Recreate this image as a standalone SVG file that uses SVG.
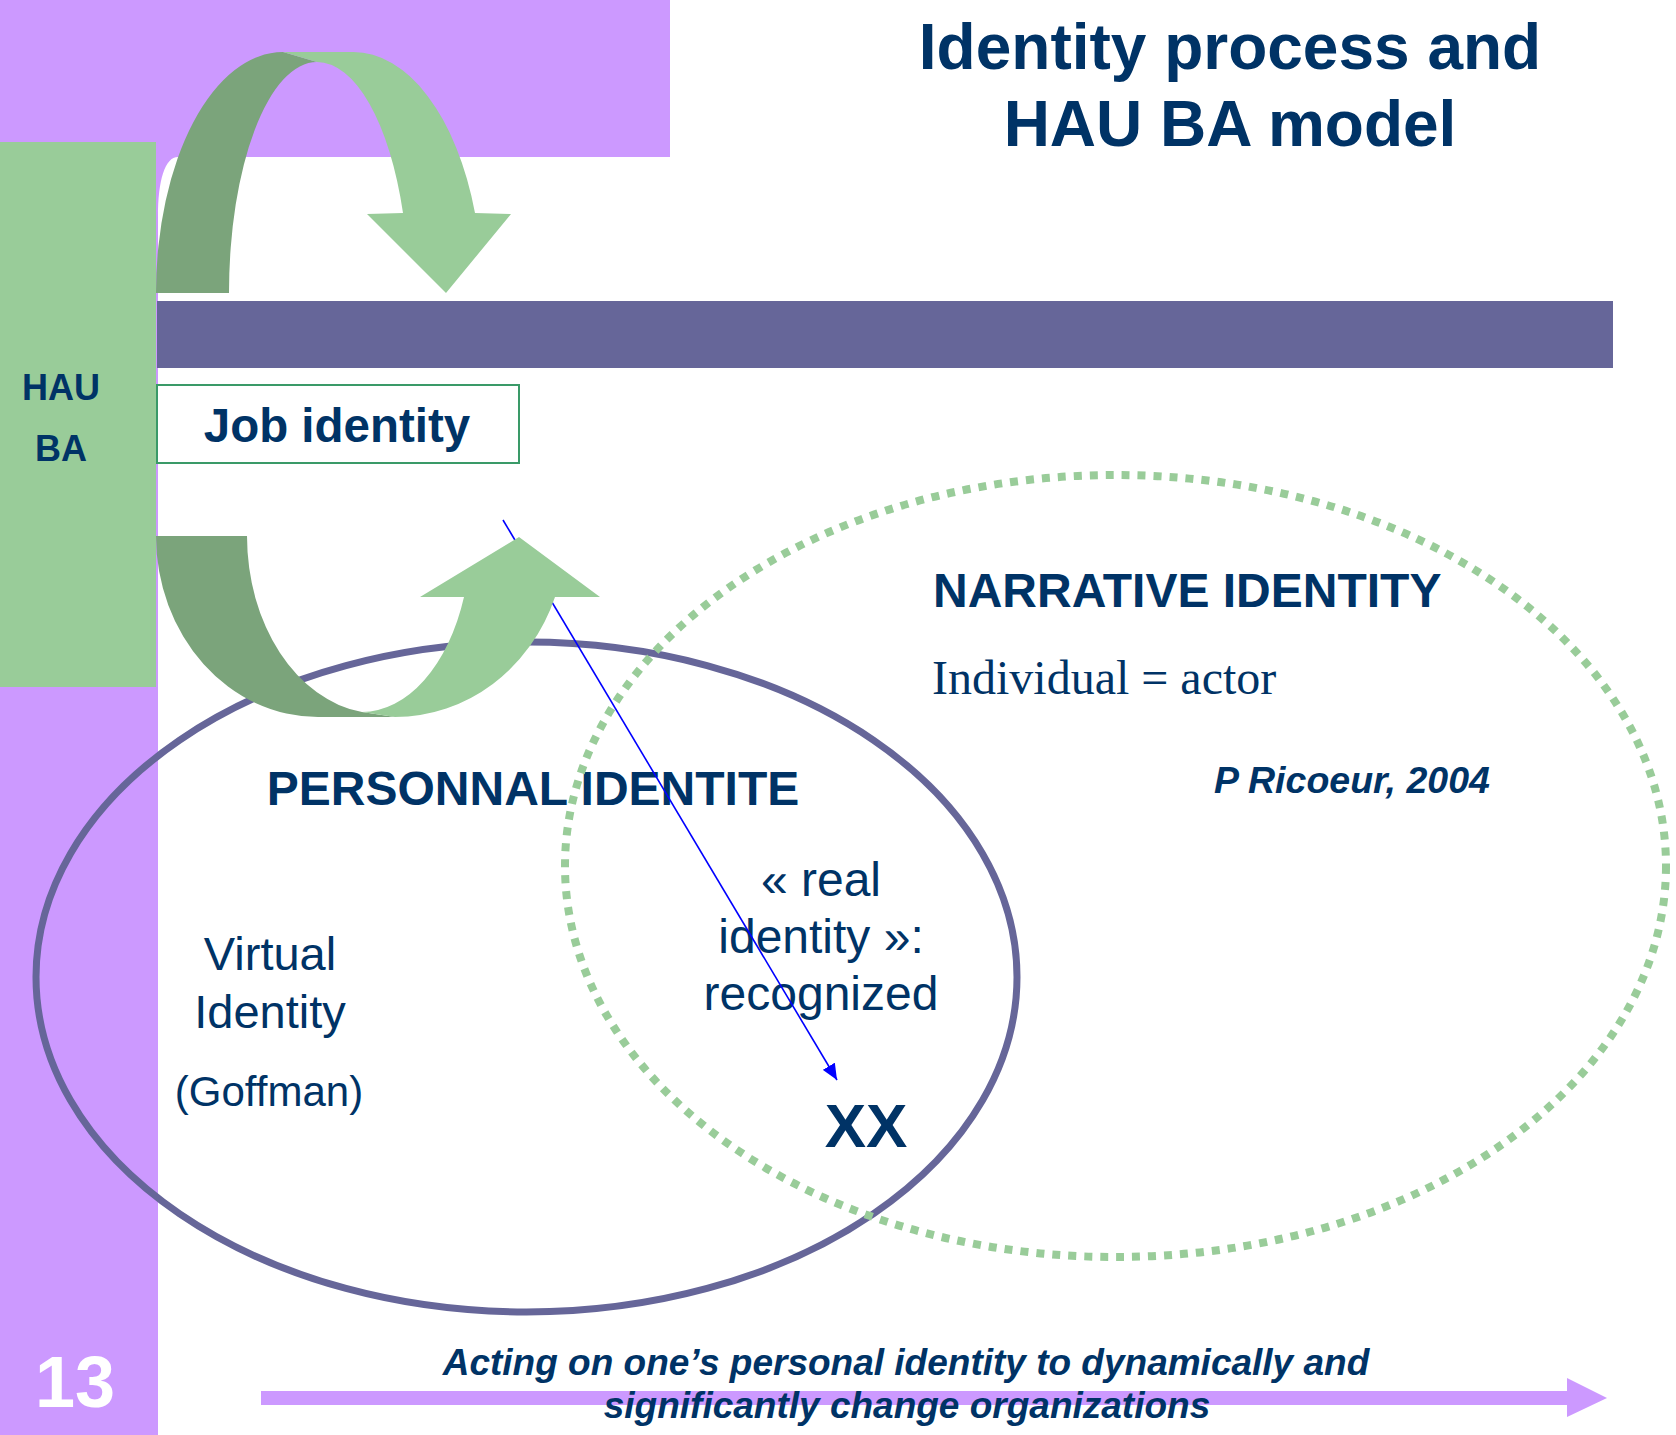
<svg xmlns="http://www.w3.org/2000/svg" width="1676" height="1435" viewBox="0 0 1676 1435">
  <style>
    .t { font-family: "Liberation Sans", Arial, sans-serif; fill: #003366; }
    .b { font-weight: bold; }
    .bi { font-weight: bold; font-style: italic; }
    .serif { font-family: "Liberation Serif", "Times New Roman", serif; fill: #003366; }
    .band-dark { fill: #7BA47B; }
    .band-light { fill: #99CC99; }
  </style>
  <defs>
    <marker id="blue-head" viewBox="0 0 16 14" refX="16" refY="7" markerWidth="16" markerHeight="14" markerUnits="userSpaceOnUse" orient="auto">
      <path d="M0,0 L16,7 L0,14 Z" fill="#0000FF"/>
    </marker>
  </defs>

  <!-- background frame -->
  <rect width="1676" height="1435" fill="#FFFFFF"/>
  <path d="M0,0 H670 V157 H178 C165,157 158,180 158,217 V1435 H0 Z" fill="#CC99FF"/>
  <rect x="0" y="142" width="156" height="545" fill="#99CC99"/>
  <rect x="157" y="301" width="1456" height="67" fill="#666699"/>

  <!-- title -->
  <g id="title">
    <text class="t b" x="1230" y="69" font-size="64" text-anchor="middle">Identity process and</text>
    <text class="t b" x="1230" y="146" font-size="64" text-anchor="middle">HAU BA model</text>
  </g>

  <!-- side label -->
  <g id="hau-ba">
    <text class="t b" x="61" y="400" font-size="36" text-anchor="middle">HAU</text>
    <text class="t b" x="61" y="461" font-size="36" text-anchor="middle">BA</text>
  </g>

  <!-- job identity box -->
  <g id="job-identity">
    <rect x="157" y="385" width="362" height="78" fill="#FFFFFF" stroke="#3A9A68" stroke-width="2"/>
    <text class="t b" x="337" y="442" font-size="47.5" text-anchor="middle">Job identity</text>
  </g>

  <!-- personal identity ellipse -->
  <g id="personal-identity">
    <ellipse cx="526.5" cy="977" rx="490.5" ry="335" fill="none" stroke="#666699" stroke-width="7"/>
    <text class="t b" x="533" y="805" font-size="48" text-anchor="middle">PERSONNAL IDENTITE</text>
    <text class="t" x="270" y="970" font-size="47" text-anchor="middle">Virtual</text>
    <text class="t" x="270" y="1028" font-size="47" text-anchor="middle">Identity</text>
    <text class="t" x="269" y="1106" font-size="42" text-anchor="middle">(Goffman)</text>
  </g>

  <!-- narrative identity ellipse -->
  <g id="narrative-identity">
    <ellipse cx="1115.5" cy="866" rx="550.5" ry="391" fill="none" stroke="#99CC99" stroke-width="8" stroke-dasharray="8 8"/>
    <text class="t b" x="933" y="607" font-size="48">NARRATIVE IDENTITY</text>
    <text class="serif" x="932" y="694" font-size="48">Individual = actor</text>
    <text class="t bi" x="1214" y="793" font-size="37.5">P Ricoeur, 2004</text>
  </g>

  <!-- overlap -->
  <g id="real-identity">
    <text class="t" x="821" y="896" font-size="48" text-anchor="middle">« real</text>
    <text class="t" x="821" y="953" font-size="48" text-anchor="middle">identity »:</text>
    <text class="t" x="821" y="1010" font-size="48" text-anchor="middle">recognized</text>
  </g>
  <g id="xx">
    <text class="t b" x="866" y="1147" font-size="62" text-anchor="middle">XX</text>
  </g>

  <!-- connectors -->
  <g id="connectors">
    <line x1="503" y1="520" x2="837" y2="1080" stroke="#0000FF" stroke-width="1.6" marker-end="url(#blue-head)"/>
  </g>

  <!-- curved arrow, top: loops over and points down to the bar -->
  <g id="arrow-top">
    <path class="band-dark" d="M156,293 A127,241 0 0 1 283,52 L317,62 A88,231 0 0 0 229,293 Z"/>
    <path class="band-light" d="M283,52 L353,52 A129,241 0 0 1 475,213 L511,214 L446,293 L367,214 L403,213 A92,231 0 0 0 317,62 Z"/>
  </g>

  <!-- curved arrow, bottom: loops under and points up -->
  <g id="arrow-bottom">
    <path class="band-dark" d="M156,536 L247,536 A133,178 0 0 0 362,712 L395,717 L318,717 A162,181 0 0 1 156,536 Z"/>
    <path class="band-light" d="M362,712 L395,717 A170,181 0 0 0 555,597 L600,597 L519,537 L420,597 L464,597 A109,176 0 0 1 362,712 Z"/>
  </g>

  <!-- bottom banner arrow -->
  <g id="banner">
    <path d="M261,1391 H1567 V1378 L1607,1398 L1567,1417 V1405 H261 Z" fill="#CC99FF"/>
    <text class="t bi" x="906" y="1375" font-size="37" text-anchor="middle">Acting on one’s personal identity to dynamically and</text>
    <text class="t bi" x="907" y="1418" font-size="37" text-anchor="middle">significantly change organizations</text>
  </g>

  <!-- slide number -->
  <g id="page-number">
    <text x="35" y="1407" font-family="Liberation Sans, Arial, sans-serif" font-weight="bold" font-size="72" fill="#FFFFFF">13</text>
  </g>
</svg>
